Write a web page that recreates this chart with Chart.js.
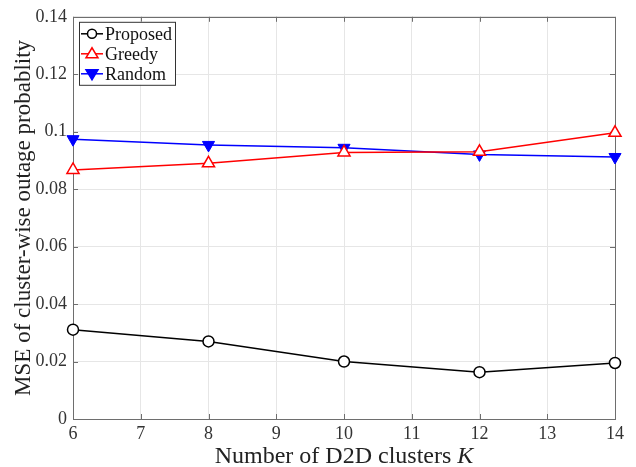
<!DOCTYPE html>
<html><head><meta charset="utf-8">
<script src="https://cdn.jsdelivr.net/npm/chart.js@4/dist/chart.umd.min.js"></script>
<style>html,body{margin:0;padding:0;background:#fff}#wrap{width:636px;height:467px}</style>
</head><body><div id="wrap"><canvas id="c" width="636" height="467"></canvas></div>
<script>
const K = [6, 8, 10, 12, 14];
const proposed = [0.0311, 0.0270, 0.0200, 0.0163, 0.0195];
const greedy   = [0.0867, 0.0890, 0.0928, 0.0930, 0.0996];
const random   = [0.0974, 0.0954, 0.0944, 0.0921, 0.0912];
const xTicks = [6, 7, 8, 9, 10, 11, 12, 13, 14];
const yTicks = [0, 0.02, 0.04, 0.06, 0.08, 0.1, 0.12, 0.14];
const xTitle = "Number of D2D clusters ";
const xTitleVar = "K";
const yTitle = "MSE of cluster-wise outage probablity";

const FONT = "'Liberation Serif', 'DejaVu Serif', serif";
const AXC = '#6e6e6e';
const pts = arr => K.map((k, i) => ({x: k, y: arr[i]}));

const frame = {
  id: 'frame',
  beforeDatasetsDraw(chart) {
    const {ctx, chartArea: a, scales: {x, y}} = chart;
    ctx.save();
    ctx.strokeStyle = AXC; ctx.lineWidth = 1;
    ctx.strokeRect(Math.round(a.left) + 0.5, Math.round(a.top) + 0.5, Math.round(a.right - a.left), Math.round(a.bottom - a.top));
    ctx.beginPath();
    xTicks.forEach(v => { const px = Math.round(x.getPixelForValue(v)) + 0.5;
      ctx.moveTo(px, a.bottom); ctx.lineTo(px, a.bottom - 5);
      ctx.moveTo(px, a.top); ctx.lineTo(px, a.top + 5); });
    yTicks.forEach(v => { const py = Math.round(y.getPixelForValue(v)) + 0.5;
      ctx.moveTo(a.left, py); ctx.lineTo(a.left + 5, py);
      ctx.moveTo(a.right, py); ctx.lineTo(a.right - 5, py); });
    ctx.stroke();
    ctx.restore();
  },
  afterDraw(chart) {
    const {ctx, chartArea: a} = chart;
    ctx.save();
    ctx.fillStyle = '#222';
    ctx.textBaseline = 'alphabetic';
    ctx.font = `24px ${FONT}`;
    const w1 = ctx.measureText(xTitle).width;
    ctx.font = `italic 24px ${FONT}`;
    const w2 = ctx.measureText(xTitleVar).width;
    const cx = (a.left + a.right) / 2;
    let sx = cx - (w1 + w2) / 2;
    ctx.font = `24px ${FONT}`;
    ctx.fillText(xTitle, sx, 463);
    ctx.font = `italic 24px ${FONT}`;
    ctx.fillText(xTitleVar, sx + w1, 463);
    ctx.translate(30, (a.top + a.bottom) / 2);
    ctx.rotate(-Math.PI / 2);
    ctx.font = `23px ${FONT}`;
    ctx.textAlign = 'center';
    ctx.fillText(yTitle, 0, 0);
    ctx.restore();
    // legend
    ctx.save();
    const lx = a.left + 6, ly = a.top + 5, lw = 96, lh = 63;
    ctx.fillStyle = '#fff';
    ctx.fillRect(lx, ly, lw, lh);
    ctx.strokeStyle = '#333'; ctx.lineWidth = 1;
    ctx.strokeRect(lx + 0.5, ly + 0.5, lw, lh);
    chart.data.datasets.forEach((ds, i) => {
      const yy = ly + 12 + i * 20;
      ctx.strokeStyle = ds.borderColor; ctx.lineWidth = 1.5;
      ctx.beginPath(); ctx.moveTo(lx + 2, yy); ctx.lineTo(lx + 24, yy); ctx.stroke();
      const mx = lx + 13;
      ctx.lineWidth = 1.5;
      ctx.fillStyle = ds.pointBackgroundColor; ctx.strokeStyle = ds.pointBorderColor;
      ctx.beginPath();
      if (ds.pointStyle === 'circle') { ctx.arc(mx, yy, 4.5, 0, Math.PI * 2); }
      else if (ds.pointRotation === 180) { ctx.moveTo(mx - 6, yy - 4); ctx.lineTo(mx + 6, yy - 4); ctx.lineTo(mx, yy + 6); ctx.closePath(); }
      else { ctx.moveTo(mx - 6, yy + 4); ctx.lineTo(mx + 6, yy + 4); ctx.lineTo(mx, yy - 6); ctx.closePath(); }
      ctx.fill(); ctx.stroke();
      ctx.fillStyle = '#111';
      ctx.font = `18px ${FONT}`;
      ctx.textBaseline = 'middle';
      ctx.fillText(ds.label, lx + 26, yy + 1);
    });
    ctx.restore();
  }
};

new Chart(document.getElementById('c'), {
  type: 'line',
  data: {
    datasets: [
      {label: 'Proposed', data: pts(proposed), borderColor: '#000', borderWidth: 1.5, clip: false,
       pointStyle: 'circle', pointRadius: 5.5, pointBackgroundColor: '#fff', pointBorderColor: '#000', pointBorderWidth: 1.5},
      {label: 'Greedy', data: pts(greedy), borderColor: '#ff0000', borderWidth: 1.5, clip: false,
       pointStyle: 'triangle', pointRadius: 7, pointBackgroundColor: '#fff', pointBorderColor: '#ff0000', pointBorderWidth: 1.5},
      {label: 'Random', data: pts(random), borderColor: '#0000ff', borderWidth: 1.5, clip: false,
       pointStyle: 'triangle', pointRotation: 180, pointRadius: 7, pointBackgroundColor: '#0000ff', pointBorderColor: '#0000ff', pointBorderWidth: 1}
    ]
  },
  options: {
    responsive: false, animation: false,
    layout: {padding: {top: 15, right: 21, left: 0, bottom: 0}},
    plugins: {legend: {display: false}, tooltip: {enabled: false}},
    scales: {
      x: {type: 'linear', min: 6, max: 14,
        afterBuildTicks: s => { s.ticks = xTicks.map(v => ({value: v})); },
        afterFit: s => { s.height = 48; },
        grid: {color: '#e6e6e6', drawTicks: false},
        border: {display: false},
        ticks: {padding: 4, color: '#333', font: {family: FONT, size: 18}, maxRotation: 0}
      },
      y: {type: 'linear', min: 0, max: 0.14,
        afterBuildTicks: s => { s.ticks = yTicks.map(v => ({value: v})); },
        afterFit: s => { s.width = 73; },
        grid: {color: '#e6e6e6', drawTicks: false},
        border: {display: false},
        ticks: {padding: 6, color: '#333', font: {family: FONT, size: 18},
          callback: v => String(parseFloat(Number(v).toFixed(2)))}
      }
    }
  },
  plugins: [frame]
});
</script></body></html>
